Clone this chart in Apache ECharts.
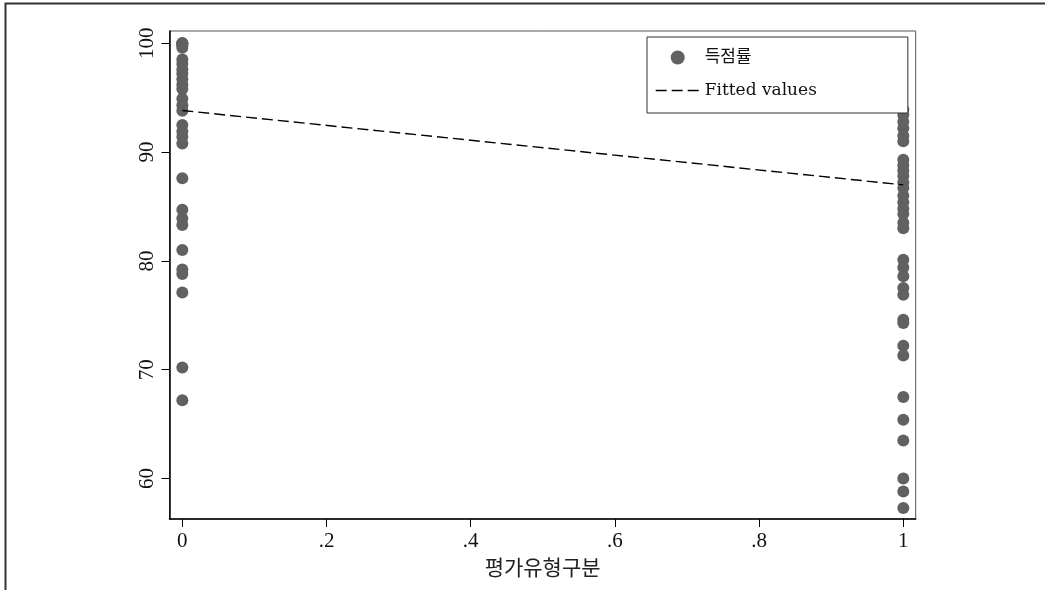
<!DOCTYPE html>
<html>
<head>
<meta charset="utf-8">
<script src="https://cdn.jsdelivr.net/npm/echarts@6/dist/echarts.min.js"></script>
<style>
  html, body { margin: 0; padding: 0; background: #fff; }
  #chart { width: 1045px; height: 590px; }
</style>
</head>
<body>
<div id="chart"></div>
<script>
// ---- data ----
const group0Values = [100, 100, 100, 99.8, 99.6,
  98.5, 98.1, 97.6, 97.2, 96.7, 96.2, 95.8,
  94.9, 94.3, 93.8,
  92.5, 91.9, 91.4, 90.8,
  87.6, 84.7, 83.9, 83.3, 81.0, 79.2, 78.8, 77.1, 70.2, 67.2];
const group1Values = [93.9, 93.4, 92.8, 92.2, 91.5, 91.0,
  89.3, 88.8, 88.3, 87.8, 87.2, 86.7, 86.0, 85.4, 84.8, 84.3, 83.5, 83.0,
  80.1, 79.4, 78.6, 77.5, 76.9,
  74.6, 74.3, 72.2, 71.3, 67.5, 65.4, 63.5, 60.0, 58.8, 57.3];
const groupX = [0, 1];
const fitX = [0, 1];
const fitY = [93.82, 86.99];
const yTicks = [60, 70, 80, 90, 100];
const xTicks = [0, 0.2, 0.4, 0.6, 0.8, 1];
const xTickLabels = ['0', '.2', '.4', '.6', '.8', '1'];
const seriesNames = ['득점률', 'Fitted values'];
const xAxisTitle = '평가유형구분';

// ---- build ----
const scatterData = [];
group0Values.forEach(v => scatterData.push([groupX[0], v]));
group1Values.forEach(v => scatterData.push([groupX[1], v]));
const fitData = fitX.map((x, i) => [x, fitY[i]]);

const tickFont = "'Liberation Serif', 'Times New Roman', serif";
const fitLineStyle = { color: '#000', width: 1.4, type: [11, 5] };
const chart = echarts.init(document.getElementById('chart'), null, { renderer: 'canvas' });
chart.setOption({
  animation: false,
  backgroundColor: '#ffffff',
  graphic: [{
    type: 'polyline',
    shape: { points: [[5.5, 590], [5.5, 3.5], [1045, 3.5]] },
    style: { stroke: '#333', lineWidth: 2, fill: null },
    silent: true
  }],
  grid: {
    left: 169.5, top: 31, right: 129.3, bottom: 71,
    show: true, borderColor: '#555', borderWidth: 1, backgroundColor: 'transparent'
  },
  legend: {
    orient: 'vertical',
    left: 647, top: 37,
    data: [
      { name: seriesNames[0], icon: 'circle' },
      { name: seriesNames[1], itemStyle: { color: 'rgba(0,0,0,0)', borderWidth: 0, opacity: 0 }, lineStyle: fitLineStyle }
    ],
    itemWidth: 44, itemHeight: 14, itemGap: 16, itemSymbolKeepAspect: true,
    padding: [12, 91, 14, 8],
    backgroundColor: '#ffffff',
    borderColor: '#333', borderWidth: 1, borderRadius: 0,
    textStyle: {
      fontFamily: "'DejaVu Serif', 'Noto Sans CJK KR', serif",
      fontSize: 17, color: '#111'
    }
  },
  xAxis: {
    type: 'value',
    min: -0.0178, max: 1.0172,
    splitLine: { show: false },
    axisLine: { show: true, onZero: false, lineStyle: { color: '#000', width: 1.5 } },
    axisTick: { show: true, length: 8, lineStyle: { color: '#000' }, customValues: xTicks },
    axisLabel: {
      customValues: xTicks,
      formatter: v => { const i = xTicks.findIndex(t => Math.abs(t - v) < 1e-9); return i >= 0 ? xTickLabels[i] : ''; },
      fontFamily: tickFont, fontSize: 21, color: '#111', margin: 12
    },
    name: xAxisTitle,
    nameLocation: 'middle',
    nameGap: 29,
    nameTextStyle: { fontFamily: "'Noto Sans CJK KR', sans-serif", fontSize: 21, color: '#222' }
  },
  yAxis: {
    type: 'value',
    min: 56.28, max: 101.13,
    splitLine: { show: false },
    axisLine: { show: true, onZero: false, lineStyle: { color: '#000', width: 1.5 } },
    axisTick: { show: true, length: 8, lineStyle: { color: '#000' }, customValues: yTicks },
    axisLabel: {
      customValues: yTicks,
      rotate: 90,
      fontFamily: tickFont, fontSize: 21, color: '#111', margin: 12
    }
  },
  series: [
    {
      name: seriesNames[0],
      type: 'scatter',
      data: scatterData,
      symbol: 'circle',
      symbolSize: 12,
      itemStyle: { color: '#616161', opacity: 1 },
      z: 2
    },
    {
      name: seriesNames[1],
      type: 'line',
      data: fitData,
      symbol: 'none',
      showSymbol: false,
      lineStyle: fitLineStyle,
      itemStyle: { color: '#000' },
      z: 3
    }
  ]
});
</script>
</body>
</html>
